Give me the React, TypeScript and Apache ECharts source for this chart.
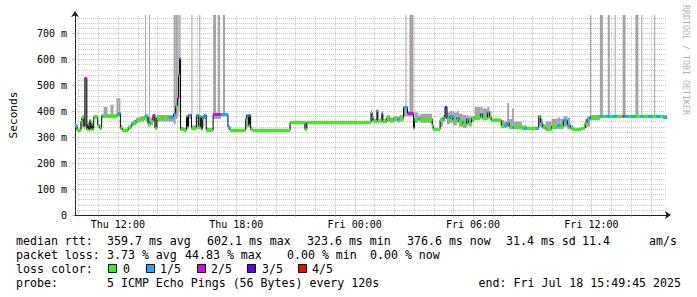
import React, { useEffect, useRef } from 'react';
import * as echarts from 'echarts';

// Time in minutes since the graph start (Thu 09:49:45) -> end at Fri 15:49:45
const T_END = 1800;
const Y_MAX = 770; // ms
const FIRST_HOUR = 10.25; // minutes from start to Thu 10:00
const gridHours = [10, 11, 12, 13, 14, 15, 16, 17, 18, 19, 20, 21, 22, 23, 0, 1, 2, 3, 4, 5, 6, 7, 8, 9, 10, 11, 12, 13, 14, 15];
const xLabels = ['Thu 12:00', 'Thu 18:00', 'Fri 00:00', 'Fri 06:00', 'Fri 12:00'];
const xLabelPos = [130.25, 490.25, 850.25, 1210.25, 1570.25];
const yTicks = [0, 100, 200, 300, 400, 500, 600, 700];
const yMinorGrid = [20, 40, 60, 80, 120, 140, 160, 180, 220, 240, 260, 280, 320, 340, 360, 380, 420, 440, 460, 480, 520, 540, 560, 580, 620, 640, 660, 680, 720, 740, 760];

// segments: start minute, median rtt (ms), loss count (of 5), smoke low / high (ms)
const segStart = [
  0, 6, 18, 21, 27, 30, 36, 39, 42, 45,
  48, 51, 54, 57, 69, 75, 81, 87, 99, 108,
  117, 126, 132, 138, 144, 162, 171, 177, 186, 198,
  210, 216, 222, 228, 237, 243, 249, 267, 285, 300,
  306, 312, 315, 318, 321, 330, 339, 342, 345, 351,
  354, 369, 375, 381, 384, 387, 393, 399, 420, 444,
  465, 471, 519, 522, 528, 531, 534, 540, 654, 699,
  705, 900, 903, 906, 918, 921, 933, 936, 948, 957,
  969, 981, 987, 999, 1011, 1029, 1032, 1044, 1050, 1086,
  1089, 1110, 1119, 1125, 1131, 1140, 1149, 1161, 1167, 1179,
  1191, 1197, 1206, 1215, 1233, 1239, 1254, 1260, 1266, 1296,
  1305, 1314, 1320, 1329, 1335, 1359, 1365, 1374, 1401, 1410,
  1416, 1422, 1431, 1449, 1467, 1476, 1485, 1497, 1506, 1515,
  1539, 1551, 1557, 1566, 1569, 1596, 1605, 1614, 1626, 1635,
  1647, 1665, 1671, 1683, 1692, 1704, 1719, 1731, 1743, 1755,
  1767, 1779, 1788,
];
const median = [
  346, 327, 360, 376, 340, 528, 330, 350, 328, 365,
  330, 350, 330, 378, 346, 335, 381, 381, 380, 382,
  380, 385, 392, 335, 327, 338, 350, 355, 365, 370,
  375, 380, 350, 362, 385, 335, 375, 378, 378, 390,
  420, 450, 540, 603, 330, 328, 380, 340, 385, 385,
  335, 385, 340, 380, 330, 375, 385, 327, 388, 388,
  340, 327, 370, 385, 345, 385, 330, 327, 357, 330,
  357, 395, 380, 360, 403, 365, 392, 360, 375, 365,
  372, 368, 372, 415, 392, 335, 370, 372, 370, 345,
  331, 365, 375, 416, 370, 380, 365, 375, 360, 350,
  370, 355, 373, 377, 390, 375, 395, 377, 365, 342,
  345, 355, 338, 340, 338, 335, 335, 335, 335, 381,
  355, 338, 331, 342, 345, 342, 365, 346, 335, 331,
  335, 355, 369, 377, 377, 381, 381, 381, 381, 381,
  381, 381, 381, 381, 381, 381, 381, 381, 381, 381,
  381, 380, 378,
];
const loss = [
  1, 0, 0, 0, 0, 2, 0, 0, 0, 0,
  0, 0, 0, 0, 0, 0, 1, 0, 0, 0,
  0, 0, 1, 0, 0, 0, 1, 0, 0, 0,
  0, 1, 0, 0, 2, 0, 0, 0, 1, 1,
  0, 2, 0, 1, 0, 0, 0, 0, 1, 2,
  0, 1, 0, 0, 0, 1, 1, 0, 2, 1,
  1, 0, 0, 1, 0, 1, 0, 0, 0, 0,
  0, 0, 1, 0, 0, 0, 1, 0, 0, 0,
  0, 1, 0, 1, 2, 0, 0, 1, 0, 0,
  0, 0, 1, 3, 0, 1, 0, 1, 0, 0,
  1, 0, 0, 0, 1, 0, 1, 0, 0, 0,
  1, 1, 0, 1, 0, 0, 1, 0, 1, 0,
  1, 0, 0, 0, 1, 0, 1, 1, 0, 0,
  0, 0, 1, 2, 0, 1, 0, 1, 0, 1,
  0, 2, 1, 0, 1, 0, 1, 0, 1, 0,
  1, 0, 1,
];
const smokeLo = [
  340, 322, 330, 340, 330, 340, 325, 330, 324, 330,
  325, 330, 325, 370, 335, 330, 375, 375, 375, 375,
  375, 375, 380, 327, 322, 330, 340, 345, 355, 360,
  365, 360, 340, 345, 360, 330, 360, 360, 360, 350,
  370, 380, 400, 450, 325, 325, 335, 330, 370, 370,
  327, 370, 330, 335, 325, 340, 370, 322, 370, 380,
  330, 322, 330, 340, 335, 345, 325, 324, 355, 327,
  355, 360, 365, 355, 360, 355, 360, 355, 360, 355,
  360, 355, 360, 380, 380, 330, 355, 360, 355, 335,
  327, 340, 360, 370, 350, 355, 345, 355, 340, 335,
  345, 340, 360, 365, 370, 365, 370, 365, 360, 335,
  335, 340, 333, 333, 333, 330, 330, 330, 330, 340,
  335, 330, 327, 330, 330, 330, 340, 330, 327, 327,
  330, 335, 340, 365, 365, 375, 375, 375, 375, 375,
  375, 375, 375, 375, 375, 375, 375, 375, 375, 375,
  375, 375, 372,
];
const smokeHi = [
  352, 333, 370, 385, 350, 530, 345, 360, 335, 370,
  340, 360, 335, 385, 350, 340, 390, 416, 390, 425,
  390, 450, 450, 345, 332, 345, 358, 365, 375, 380,
  385, 390, 380, 375, 390, 375, 385, 385, 385, 770,
  770, 770, 770, 770, 340, 335, 385, 380, 390, 390,
  345, 390, 385, 385, 350, 385, 390, 335, 392, 392,
  345, 332, 385, 388, 380, 388, 340, 330, 360, 357,
  360, 405, 395, 370, 405, 370, 400, 370, 385, 375,
  380, 380, 385, 420, 400, 370, 395, 385, 390, 360,
  335, 375, 385, 420, 395, 400, 395, 400, 390, 385,
  385, 380, 380, 416, 416, 410, 416, 400, 372, 365,
  360, 431, 370, 410, 360, 345, 345, 340, 340, 385,
  370, 350, 360, 370, 375, 370, 380, 375, 345, 335,
  340, 370, 380, 385, 385, 385, 385, 385, 385, 385,
  385, 385, 385, 385, 385, 385, 385, 385, 385, 385,
  385, 385, 385,
];

// single pings far above the median (drawn up to the top of the graph)
const spikeStart = [213, 225, 354, 378, 420, 435, 450, 1005, 1017, 1566, 1596, 1620, 1641, 1665, 1704, 1722, 1761];
const spikeWidth = [3, 3, 3, 3, 9, 6, 6, 3, 12, 3, 9, 6, 3, 9, 9, 3, 3];
const spikeBase = [375, 375, 385, 385, 388, 388, 388, 415, 392, 377, 381, 381, 381, 381, 381, 381, 381];

const LOSS_COLORS = ['#26ff00', '#00b8ff', '#dd00ff', '#5e00ff', '#ff0000'];
const LOSS_LABELS = ['0', '1/5', '2/5', '3/5', '4/5'];

const FONT = 'DejaVu Sans Mono';
const GRID = 'rgba(143,143,143,0.45)';
const MGRID = 'rgba(222,79,79,0.4)';
const AXIS = '#1f1f1f';
const SMOKE = '#a4a4a4';

function buildOption() {
  const n = segStart.length;
  const segEnd = (i: number) => (i + 1 < n ? segStart[i + 1] : T_END);
  const smokeData = segStart.map((t, i) => [t, segEnd(i), smokeLo[i], smokeHi[i]]);
  const medData = segStart.map((t, i) => [t, segEnd(i), median[i], loss[i]]);
  const stepData = segStart.map((t, i) => [t, median[i]]).concat([[T_END, median[n - 1]]]);
  const spikeData = spikeStart.map((t, i) => [t, t + spikeWidth[i], spikeBase[i]]);
  const hourPos = gridHours.map((_, i) => FIRST_HOUR + 60 * i);
  const vGrid = gridHours.map((h, i) => [hourPos[i], h % 3 === 0 ? 1 : 0]);
  const hGrid = yMinorGrid.map((v) => [v, 0]).concat(yTicks.filter((v) => v > 0).map((v) => [v, 1]));

  const txt = (x: number, y: number, text: string, extra: any = {}) => ({
    type: 'text',
    x,
    y,
    silent: true,
    style: {
      text,
      fontFamily: FONT,
      fontSize: 11.6,
      fill: '#000',
      align: 'left',
      verticalAlign: 'middle',
      textAlign: 'left',
      textVerticalAlign: 'middle',
      ...extra,
    },
  });

  const L1 = 241, L2 = 255, L3 = 269, L4 = 283;
  const elements: any[] = [
    txt(16, L1, 'median rtt:'),
    txt(107, L1, '359.7 ms avg'),
    txt(207, L1, '602.1 ms max'),
    txt(307, L1, '323.6 ms min'),
    txt(407, L1, '376.6 ms now'),
    txt(506, L1, '31.4 ms sd'),
    txt(582, L1, '11.4'),
    txt(649, L1, 'am/s'),
    txt(16, L2, 'packet loss:'),
    txt(107, L2, '3.73 % avg'),
    txt(185, L2, '44.83 % max'),
    txt(287, L2, '0.00 % min'),
    txt(370, L2, '0.00 % now'),
    txt(16, L3, 'loss color:'),
    txt(16, L4, 'probe:'),
    txt(107, L4, '5 ICMP Echo Pings (56 Bytes) every 120s'),
    txt(681, L4, 'end: Fri Jul 18 15:49:45 2025', { align: 'right', textAlign: 'right' }),
    {
      type: 'text',
      x: 686,
      y: 60,
      rotation: -Math.PI / 2,
      silent: true,
      style: {
        text: 'RRDTOOL / TOBI OETIKER',
        fontFamily: FONT,
        fontSize: 8.3,
        fill: '#b4b4b4',
        align: 'center',
        verticalAlign: 'middle',
        textAlign: 'center',
        textVerticalAlign: 'middle',
      },
    },
  ];
  const boxX = [108.5, 146.5, 197.5, 247.5, 298.5];
  const boxLabelX = [123, 160, 211, 262, 312];
  LOSS_COLORS.forEach((c, i) => {
    elements.push({
      type: 'rect',
      silent: true,
      shape: { x: boxX[i], y: 264.5, width: 8, height: 8 },
      style: { fill: c, stroke: '#000', lineWidth: 1 },
    });
    elements.push(txt(boxLabelX[i], L3, LOSS_LABELS[i]));
  });

  return {
    animation: false,
    backgroundColor: '#ffffff',
    grid: { left: 67, top: 15, width: 600, height: 200, containLabel: false },
    xAxis: {
      type: 'value',
      min: 0,
      max: T_END,
      axisLine: {
        show: true,
        onZero: false,
        lineStyle: { color: AXIS, width: 1 },
        symbol: ['none', 'arrow'],
        symbolSize: [6, 6],
        symbolOffset: [0, 4],
      },
      axisTick: { show: true, customValues: hourPos, length: 2, lineStyle: { color: GRID } },
      axisLabel: {
        customValues: xLabelPos,
        formatter: (v: number) => {
          const k = xLabelPos.findIndex((p) => Math.abs(p - v) < 0.01);
          return k >= 0 ? xLabels[k] : '';
        },
        fontFamily: FONT,
        fontSize: 10,
        color: '#000',
        margin: 4,
      },
      splitLine: { show: false },
    },
    yAxis: {
      type: 'value',
      min: 0,
      max: Y_MAX,
      name: 'Seconds',
      nameLocation: 'middle',
      nameGap: 56,
      nameTextStyle: { fontFamily: FONT, fontSize: 11.2, color: '#000' },
      axisLine: {
        show: true,
        lineStyle: { color: AXIS, width: 1 },
        symbol: ['none', 'arrow'],
        symbolSize: [6, 6],
        symbolOffset: [0, 4],
      },
      axisTick: { show: true, customValues: yTicks, length: 3, lineStyle: { color: MGRID } },
      axisLabel: {
        customValues: yTicks,
        formatter: (v: number) => (v === 0 ? '0' : `${v} m`),
        fontFamily: FONT,
        fontSize: 10,
        color: '#000',
        margin: 8,
      },
      splitLine: { show: false },
    },
    series: [
      {
        type: 'custom',
        name: 'vgrid',
        silent: true,
        z: 1,
        data: vGrid,
        renderItem: (_p: any, api: any) => {
          const v = api.value(0);
          const a = api.coord([v, 0]);
          const b = api.coord([v, Y_MAX]);
          const x = Math.round(a[0]) + 0.5;
          return {
            type: 'line',
            shape: { x1: x, y1: a[1], x2: x, y2: b[1] },
            style: { stroke: api.value(1) ? MGRID : GRID, lineWidth: 1, lineDash: [1, 1] },
          };
        },
      },
      {
        type: 'custom',
        name: 'hgrid',
        silent: true,
        z: 1,
        data: hGrid,
        renderItem: (_p: any, api: any) => {
          const v = api.value(0);
          const a = api.coord([0, v]);
          const b = api.coord([T_END, v]);
          const y = Math.round(a[1]) + 0.5;
          return {
            type: 'line',
            shape: { x1: a[0], y1: y, x2: b[0], y2: y },
            style: { stroke: api.value(1) ? MGRID : GRID, lineWidth: 1, lineDash: [1, 1] },
          };
        },
      },
      {
        type: 'custom',
        name: 'smoke',
        silent: true,
        clip: true,
        z: 2,
        data: smokeData,
        renderItem: (_p: any, api: any) => {
          const p0 = api.coord([api.value(0), api.value(3)]);
          const p1 = api.coord([api.value(1), api.value(2)]);
          return {
            type: 'rect',
            shape: { x: p0[0], y: p0[1], width: p1[0] - p0[0], height: Math.max(1, p1[1] - p0[1]) },
            style: { fill: SMOKE },
          };
        },
      },
      {
        type: 'custom',
        name: 'spikes',
        silent: true,
        clip: true,
        z: 2,
        data: spikeData,
        renderItem: (_p: any, api: any) => {
          const p0 = api.coord([api.value(0), Y_MAX]);
          const p1 = api.coord([api.value(1), api.value(2)]);
          return {
            type: 'rect',
            shape: { x: p0[0], y: p0[1], width: p1[0] - p0[0], height: p1[1] - p0[1] },
            style: { fill: SMOKE },
          };
        },
      },
      {
        type: 'line',
        name: 'median-step',
        silent: true,
        step: 'end',
        z: 3,
        data: stepData,
        symbol: 'none',
        showSymbol: false,
        lineStyle: { color: '#000', width: 1 },
      },
      {
        type: 'custom',
        name: 'median',
        silent: true,
        clip: true,
        z: 4,
        data: medData,
        renderItem: (_p: any, api: any) => {
          const p0 = api.coord([api.value(0), api.value(2)]);
          const p1 = api.coord([api.value(1), api.value(2)]);
          const y = Math.round(p0[1]) - 1;
          return {
            type: 'rect',
            shape: { x: p0[0], y, width: p1[0] - p0[0], height: 3 },
            style: { fill: LOSS_COLORS[api.value(3)] },
          };
        },
      },
    ],
    graphic: { elements },
  };
}

export default function App() {
  const ref = useRef<HTMLDivElement>(null);
  useEffect(() => {
    const chart = echarts.init(ref.current as HTMLDivElement, null, { renderer: 'svg' });
    chart.setOption(buildOption() as any);
    return () => chart.dispose();
  }, []);
  return (
    <div
      ref={ref}
      style={{ position: 'fixed', left: 0, top: 0, width: 697, height: 297, background: '#fff' }}
    />
  );
}
